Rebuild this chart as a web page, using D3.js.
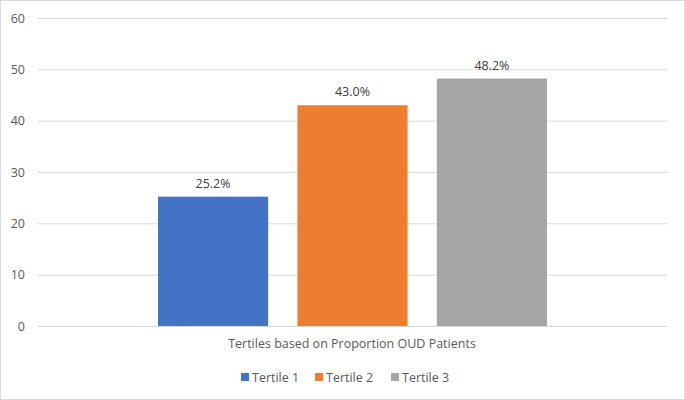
<!DOCTYPE html>
<html>
<head>
<meta charset="utf-8">
<script src="https://cdn.jsdelivr.net/npm/d3@7"></script>
<style>
  body { margin: 0; background: #fff; }
  svg text { font-family: "Open Sans", "Liberation Sans", sans-serif; }
</style>
</head>
<body>
<svg id="chart" width="685" height="400"></svg>
<script>
// ---- data ----
const categories = ["Tertile 1", "Tertile 2", "Tertile 3"];
const values = [25.2, 43.0, 48.2];
const labels = ["25.2%", "43.0%", "48.2%"];
const colours = ["#4472c4", "#ed7d31", "#a5a5a5"];
const yTicks = [0, 10, 20, 30, 40, 50, 60];
const axisTitle = "Tertiles based on Proportion OUD Patients";

const width = 685;
const height = 400;
const margin = { top: 18, right: 18, bottom: 74, left: 38 };

const svg = d3.select("#chart");

// outer border
svg.append("rect")
    .attr("x", 0.5).attr("y", 0.5)
    .attr("width", width - 1).attr("height", height - 1)
    .attr("fill", "#fff")
    .attr("stroke", "#d9d9d9");

const y = d3.scaleLinear()
    .domain([0, 60])
    .range([height - margin.bottom, margin.top]);

// bars sit in the middle of the single category group
const x = d3.scaleBand()
    .domain(categories)
    .range([158, 547])
    .paddingInner(0.21);

// gridlines
const grid = d3.axisLeft(y)
    .tickValues(yTicks)
    .tickSize(-(width - margin.left - margin.right))
    .tickFormat("");
svg.append("g")
    .attr("transform", "translate(" + margin.left + ",0)")
    .call(grid)
    .call(g => g.select(".domain").remove())
    .selectAll("line")
    .attr("stroke", "#d9d9d9");

// tick labels
svg.append("g")
    .selectAll("text")
    .data(yTicks)
    .enter()
    .append("text")
    .attr("x", 25)
    .attr("y", d => y(d) + 4.5)
    .attr("text-anchor", "end")
    .attr("font-size", 12.5)
    .attr("fill", "#595959")
    .text(d => d);

// bars
svg.append("g")
    .selectAll("rect")
    .data(values)
    .enter()
    .append("rect")
    .attr("x", (d, i) => x(categories[i]))
    .attr("y", d => y(d))
    .attr("width", x.bandwidth())
    .attr("height", d => y(0) - y(d))
    .attr("fill", (d, i) => colours[i]);

// value labels
svg.append("g")
    .selectAll("text")
    .data(values)
    .enter()
    .append("text")
    .attr("x", (d, i) => x(categories[i]) + x.bandwidth() / 2)
    .attr("y", d => y(d) - 9)
    .attr("text-anchor", "middle")
    .attr("font-size", 12.5)
    .attr("fill", "#404040")
    .text((d, i) => labels[i]);

// axis title
svg.append("text")
    .attr("x", 352)
    .attr("y", 348)
    .attr("text-anchor", "middle")
    .attr("font-size", 12.5)
    .attr("fill", "#595959")
    .text(axisTitle);

// legend
const legendX = [241, 315, 391];
const legend = svg.append("g");
legend.selectAll("rect")
    .data(categories)
    .enter()
    .append("rect")
    .attr("x", (d, i) => legendX[i])
    .attr("y", 373)
    .attr("width", 8)
    .attr("height", 8)
    .attr("fill", (d, i) => colours[i]);
legend.selectAll("text")
    .data(categories)
    .enter()
    .append("text")
    .attr("x", (d, i) => legendX[i] + 11)
    .attr("y", 382)
    .attr("font-size", 12.5)
    .attr("fill", "#595959")
    .text(d => d);
</script>
</body>
</html>
